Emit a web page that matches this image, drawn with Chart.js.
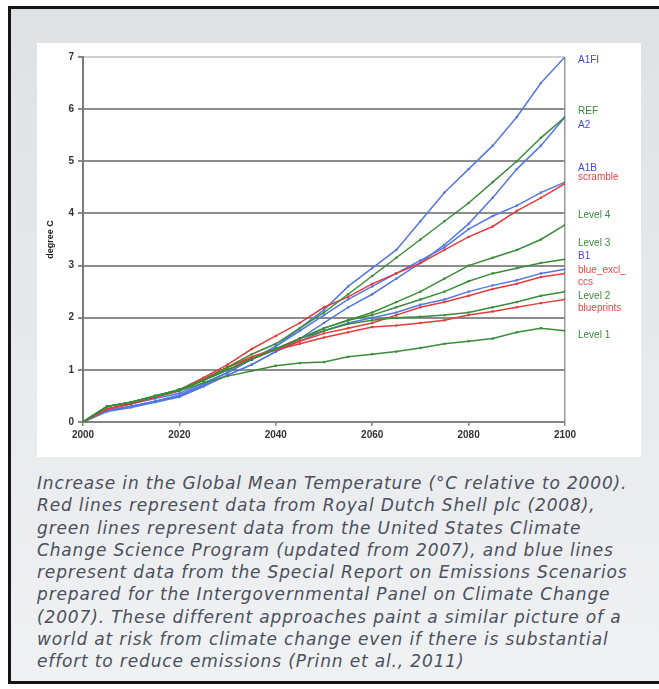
<!DOCTYPE html>
<html><head><meta charset="utf-8">
<script src="https://cdn.jsdelivr.net/npm/chart.js@4.4.1/dist/chart.umd.min.js"></script>
<style>
html,body{margin:0;padding:0;background:#fff;width:659px;height:689px;overflow:hidden;}
#frame{position:absolute;left:8px;top:6px;width:700px;height:672px;border:3px solid #151515;background:linear-gradient(#dfe1e5,#f0f1f3);}
#panel{position:absolute;left:37px;top:43px;width:604px;height:414px;background:#fff;}
#cap{position:absolute;left:37px;top:472px;width:620px;font:italic 17px "DejaVu Sans",Verdana,sans-serif;letter-spacing:0.85px;line-height:22.3px;color:#4a505c;white-space:nowrap;}
</style></head>
<body>
<div id="frame"></div>
<div id="panel"><canvas id="c" width="604" height="414"></canvas></div>
<div id="cap">Increase in the Global Mean Temperature (°C relative to 2000).<br>Red lines represent data from Royal Dutch Shell plc (2008),<br>green lines represent data from the United States Climate<br>Change Science Program (updated from 2007), and blue lines<br>represent data from the Special Report on Emissions Scenarios<br>prepared for the Intergovernmental Panel on Climate Change<br>(2007). These different approaches paint a similar picture of a<br>world at risk from climate change even if there is substantial<br>effort to reduce emissions (Prinn et al., 2011)</div>
<script>
const years = [2000,2005,2010,2015,2020,2025,2030,2035,2040,2045,2050,2055,2060,2065,2070,2075,2080,2085,2090,2095,2100];
const xTicks = [2000,2020,2040,2060,2080,2100];
const yTicks = [0,1,2,3,4,5,6,7];

// SRES (blue)
const A1FI = [0,0.25,0.35,0.45,0.55,0.75,0.95,1.2,1.45,1.8,2.15,2.6,2.95,3.3,3.85,4.4,4.85,5.3,5.85,6.5,7.0];
const A2   = [0,0.22,0.3,0.4,0.5,0.7,0.9,1.1,1.35,1.6,1.9,2.2,2.45,2.75,3.05,3.4,3.8,4.3,4.85,5.3,5.85];
const A1B  = [0,0.22,0.3,0.4,0.52,0.72,0.95,1.2,1.45,1.75,2.05,2.35,2.6,2.85,3.1,3.35,3.7,3.95,4.15,4.4,4.6];
const B1   = [0,0.2,0.28,0.38,0.48,0.68,0.9,1.1,1.35,1.55,1.75,1.9,2.0,2.1,2.25,2.35,2.5,2.62,2.72,2.85,2.93];
// Shell (red)
const scramble    = [0,0.25,0.35,0.48,0.62,0.85,1.1,1.4,1.65,1.9,2.2,2.4,2.65,2.85,3.05,3.3,3.55,3.75,4.05,4.3,4.57];
const blueExclCcs = [0,0.25,0.35,0.48,0.6,0.82,1.05,1.25,1.4,1.55,1.7,1.8,1.9,2.05,2.2,2.3,2.42,2.55,2.65,2.78,2.85];
const blueprints  = [0,0.25,0.35,0.48,0.6,0.82,1.05,1.22,1.38,1.5,1.62,1.72,1.82,1.85,1.9,1.95,2.05,2.12,2.2,2.28,2.35];
// CCSP (green)
const REF    = [0,0.3,0.38,0.5,0.62,0.8,1.05,1.3,1.5,1.8,2.1,2.45,2.8,3.15,3.5,3.85,4.2,4.6,5.0,5.45,5.85];
const level4 = [0,0.3,0.38,0.5,0.62,0.8,1.0,1.2,1.4,1.6,1.8,1.95,2.1,2.3,2.5,2.75,3.0,3.15,3.3,3.5,3.78];
const level3 = [0,0.3,0.38,0.5,0.62,0.8,1.0,1.2,1.4,1.6,1.8,1.95,2.05,2.2,2.35,2.5,2.7,2.85,2.95,3.05,3.12];
const level2 = [0,0.3,0.38,0.5,0.62,0.8,1.0,1.2,1.4,1.6,1.75,1.88,1.95,2.0,2.02,2.05,2.1,2.2,2.3,2.42,2.5];
const level1 = [0,0.3,0.38,0.5,0.6,0.75,0.88,0.98,1.08,1.13,1.15,1.25,1.3,1.35,1.42,1.5,1.55,1.6,1.72,1.8,1.75];

const endLabels = ['A1FI','REF','A2','A1B','scramble','Level 4','Level 3','B1','blue_excl_','ccs','Level 2','blueprints','Level 1'];

const BLUE='#5577e0', RED='#e23c3c', GREEN='#3a8c3a';
function ds(name, vals, col){
  return {label:name, data: years.map((y,i)=>({x:y,y:vals[i]})), borderColor:col, backgroundColor:col,
    borderWidth:1.5, pointRadius:1.6, pointStyle:'rect', pointBorderWidth:0, tension:0};
}
const datasets = [
  ds('Level 1',level1,GREEN), ds('Level 2',level2,GREEN), ds('Level 3',level3,GREEN), ds('Level 4',level4,GREEN), ds('REF',REF,GREEN),
  ds('blueprints',blueprints,RED), ds('blue_excl_ccs',blueExclCcs,RED), ds('scramble',scramble,RED),
  ds('B1',B1,BLUE), ds('A1B',A1B,BLUE), ds('A2',A2,BLUE), ds('A1FI',A1FI,BLUE)
];

const labelPlugin = {
  id:'endLabels',
  afterDatasetsDraw(chart, args, opts){
    const ctx = chart.ctx, ys = chart.scales.y, ca = chart.chartArea;
    ctx.save();
    ctx.font = '10px "Liberation Sans", Arial, sans-serif';
    ctx.textBaseline = 'middle';
    ctx.textAlign = 'left';
    endLabels.forEach((t,i)=>{
      ctx.fillStyle = opts.colors[i];
      ctx.fillText(t, ca.right + 13, ys.getPixelForValue(opts.at[i]));
    });
    ctx.restore();
  }
};

const tickFont = {size:10, weight:'bold', family:'"Liberation Sans", Arial, sans-serif'};
new Chart(document.getElementById('c'), {
  type:'line',
  data:{datasets},
  plugins:[labelPlugin],
  options:{
    responsive:false, animation:false,
    layout:{padding:{left:6,right:76,top:14,bottom:5}},
    plugins:{legend:{display:false}, tooltip:{enabled:false},
      endLabels:{
        at:[6.93,5.96,5.69,4.87,4.69,3.97,3.43,3.18,2.91,2.68,2.41,2.18,1.67],
        colors:['#4848d8',GREEN,'#4848d8','#4848d8','#ee4444',GREEN,GREEN,'#4848d8','#ee4444','#ee4444',GREEN,'#ee4444',GREEN]
      }
    },
    scales:{
      x:{type:'linear', min:2000, max:2100,
        afterBuildTicks: s => { s.ticks = xTicks.map(v=>({value:v})); },
        afterFit: s => { s.height = 30; },
        grid:{drawOnChartArea:true, color: c => (c.tick && c.tick.value===2100) ? '#9a9a9a' : 'rgba(0,0,0,0)', lineWidth:1.5, tickLength:4, tickColor:'#888'},
        border:{display:true, color:'#858585', width:2},
        ticks:{color:'#333', font:tickFont, padding:3, maxRotation:0, callback: v => String(v)}
      },
      y:{type:'linear', min:0, max:7,
        afterBuildTicks: s => { s.ticks = yTicks.map(v=>({value:v})); },
        afterFit: s => { s.width = 40; },
        grid:{color: c => (c.tick && c.tick.value===7) ? '#d0d0d0' : '#8c8c8c', lineWidth:2, tickLength:5, tickColor:'#888'},
        border:{display:true, color:'#7a7a7a', width:2},
        ticks:{color:'#333', font:tickFont, padding:4, callback: v => String(v)},
        title:{display:true, text:'degree C', color:'#222', font:{size:9, weight:'bold', family:'"Liberation Sans", Arial, sans-serif'}, padding:{top:2,bottom:0}}
      }
    }
  }
});
</script>
</body></html>
